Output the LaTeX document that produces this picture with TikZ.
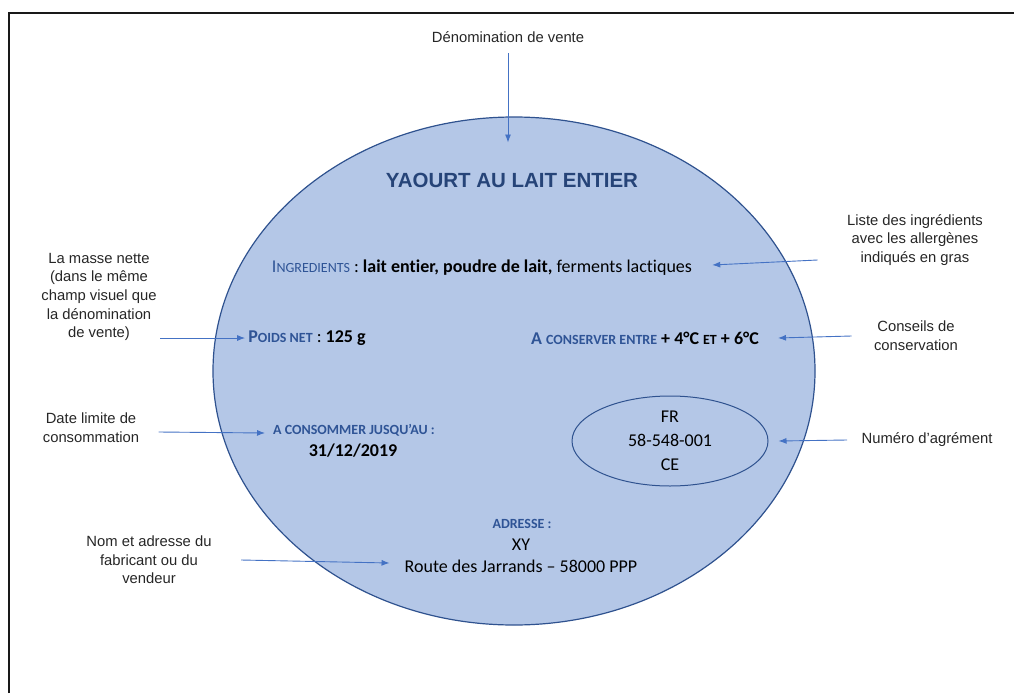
\documentclass[tikz,border=0pt]{standalone}
\usepackage{fontspec}
\setmainfont[Ligatures=NoCommon]{Carlito}
\newfontfamily\arialfont{Liberation Sans}
\usetikzlibrary{arrows.meta,positioning,shapes.geometric}
\definecolor{fondbleu}{HTML}{B4C7E7}
\definecolor{bordbleu}{HTML}{2F528F}
\definecolor{flechebleu}{HTML}{4472C4}
\definecolor{titrebleu}{HTML}{264478}
\definecolor{motbleu}{HTML}{2F5496}
\newcommand{\pcap}[1]{{\fontsize{14}{14}\selectfont #1}}

\begin{document}
\begin{tikzpicture}[x=1pt,y=-1pt]
    \tikzset{legende/.style = {font=\arialfont\fontsize{14.8}{18.7}\selectfont, align=center, text=black!85}}
    \tikzset{texte/.style = {font=\fontsize{18}{21.5}\selectfont, align=center, inner sep=3pt}}
    \tikzset{fleche/.style = {draw=flechebleu, line width=0.9pt, -{Latex[length=8pt,width=6pt]}}}

    \useasboundingbox (0,0) rectangle (1014,693);
    \draw[line width=2.2pt, black!90] (9,693) -- (9,13) -- (1014,13);

    % etiquette
    \node[ellipse, draw=bordbleu, line width=1.2pt, fill=fondbleu, minimum width=602pt, minimum height=508pt] (pot) at (514,371) {};
    \node[ellipse, draw=bordbleu, line width=1pt, minimum width=196pt, minimum height=90pt, inner sep=0pt, font=\fontsize{18}{24}\selectfont, align=center] (agrem) at (670,441) {FR\\58-548-001\\CE};

    \node[texte, font=\arialfont\bfseries\fontsize{20.5}{24}\selectfont, text=titrebleu] (titre) at (512,180) {YAOURT AU LAIT ENTIER};
    \node[texte] (ingr) at (482,268) {\textcolor{motbleu}{I\pcap{NGREDIENTS}} : \textbf{lait entier, poudre de lait,} ferments lactiques};
    \node[texte] (poids) at (307,338) {\textcolor{motbleu}{\bfseries P\pcap{OIDS NET}} : \textbf{125 g}};
    \node[texte] (conserv) at (645,338) {\textcolor{motbleu}{\bfseries A \pcap{CONSERVER ENTRE}} \textbf{+ 4°C \pcap{ET} + 6°C}};
    \node[texte, text=motbleu] (dlc) at (354,430) {\bfseries\pcap{A CONSOMMER JUSQU’AU :}};
    \node[texte] (date) at (353,451) {\textbf{31/12/2019}};
    \node[texte, text=motbleu] (adr) at (522,524) {\bfseries\pcap{ADRESSE :}};
    \node[texte] (xy) at (521,545) {XY};
    \node[texte] (route) at (521,566) {Route des Jarrands – 58000 PPP};

    % legendes
    \node[legende] (denom) at (508,37) {Dénomination de vente};
    \node[legende] (liste) at (915,240) {Liste des ingrédients\\avec les allergènes\\indiqués en gras};
    \node[legende] (masse) at (99,297) {La masse nette\\(dans le même\\champ visuel que\\la dénomination\\de vente)};
    \node[legende] (conseils) at (916,336) {Conseils de\\conservation};
    \node[legende] (datelim) at (91,428) {Date limite de\\consommation};
    \node[legende] (numagr) at (927,440) {Numéro d’agrément};
    \node[legende] (fabric) at (149,560) {Nom et adresse du\\fabricant ou du\\vendeur};

    % fleches
    \draw[fleche, shorten <=7pt, shorten >=27pt] (denom) -- (denom |- titre.north);
    \draw[fleche] ([shift={(-26,20)}]liste.west) -- ([shift={(17,-3)}]ingr.east);
    \draw[fleche] (masse.east |- poids.west) -- (poids.west);
    \draw[fleche] ([xshift=-19pt]conseils.west) -- ([xshift=16pt]conserv.east);
    \draw[fleche] ([shift={(16,4)}]datelim.east) -- ([shift={(-5,3)}]dlc.west);
    \draw[fleche] ([xshift=-11pt]numagr.west) -- ([xshift=10pt]agrem.east);
    \draw[fleche] ([xshift=26pt]fabric.east) -- ([shift={(-12,-3)}]route.west);
\end{tikzpicture}
\end{document}
